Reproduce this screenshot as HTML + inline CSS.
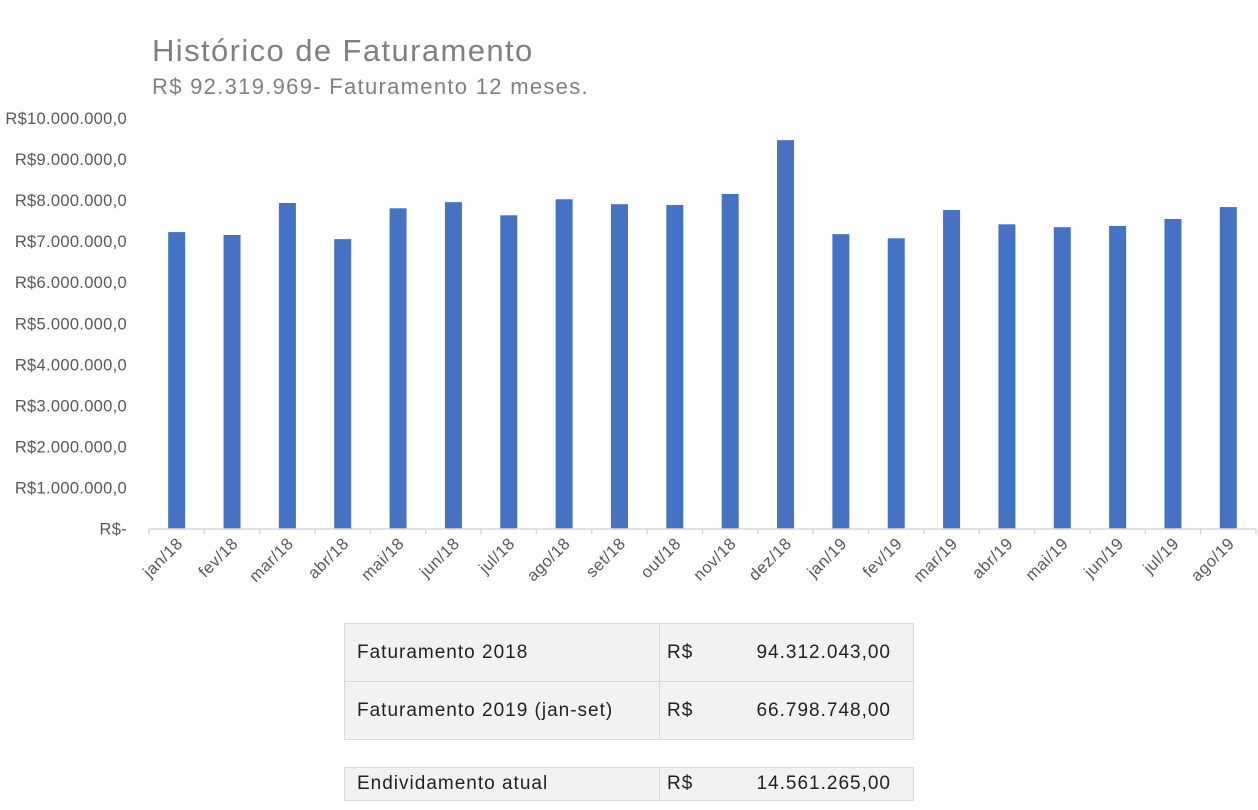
<!DOCTYPE html>
<html><head><meta charset="utf-8"><style>
body{margin:0;width:1258px;height:810px;background:#fff;font-family:"Liberation Sans",sans-serif;overflow:hidden;position:relative}
.t{position:absolute;white-space:nowrap}
table{position:absolute;border-collapse:collapse;font-size:19px;color:#222;letter-spacing:1px}
td{background:#f2f2f2;border:1px solid #d9d9d9;padding:0 12px;height:57px}
td.v{padding-left:7px}
</style></head><body>
<div class="t" style="left:152px;top:33px;font-size:31px;color:#808080;letter-spacing:1.4px">Histórico de Faturamento</div>
<div class="t" style="left:152px;top:74px;font-size:22px;color:#808080;letter-spacing:1.3px">R$ 92.319.969- Faturamento 12 meses.</div>
<svg id="chart" width="1258" height="620" style="position:absolute;left:0;top:0"></svg>
<table style="left:344px;top:623px;width:570px">
<tr><td style="width:290px">Faturamento 2018</td><td class="v"><span style="float:left">R$</span><span style="float:right;padding-right:10px">94.312.043,00</span></td></tr>
<tr><td>Faturamento 2019 (jan-set)</td><td class="v"><span style="float:left">R$</span><span style="float:right;padding-right:10px">66.798.748,00</span></td></tr>
</table>
<table style="left:344px;top:767px;width:570px">
<tr><td style="width:290px;height:32px">Endividamento atual</td><td class="v" style="height:32px"><span style="float:left">R$</span><span style="float:right;padding-right:10px">14.561.265,00</span></td></tr>
</table>
<script>
const categories=["jan/18","fev/18","mar/18","abr/18","mai/18","jun/18","jul/18","ago/18","set/18","out/18","nov/18","dez/18","jan/19","fev/19","mar/19","abr/19","mai/19","jun/19","jul/19","ago/19"];
const values=[7.22,7.15,7.93,7.05,7.80,7.95,7.63,8.02,7.90,7.88,8.15,9.46,7.17,7.07,7.76,7.41,7.34,7.37,7.54,7.83];
const yTicks=[0,1,2,3,4,5,6,7,8,9,10];
const yTickLabels=["R$-","R$1.000.000,0","R$2.000.000,0","R$3.000.000,0","R$4.000.000,0","R$5.000.000,0","R$6.000.000,0","R$7.000.000,0","R$8.000.000,0","R$9.000.000,0","R$10.000.000,0"];
const svg=document.getElementById('chart');const NS="http://www.w3.org/2000/svg";
const x0=149,x1=1256,y0=528.5,yTop=118;
const bw=(x1-x0)/categories.length;
const y=v=>y0-(v/10)*(y0-yTop);
const xc=i=>x0+bw*(i+0.5);
function mk(t,a){const e=document.createElementNS(NS,t);for(const k in a)e.setAttribute(k,a[k]);svg.appendChild(e);return e;}
yTicks.forEach((v,i)=>{const t=mk('text',{x:127,y:y(v)+6,'text-anchor':'end','font-size':16.5,fill:'#595959','font-family':'Liberation Sans','letter-spacing':0.3});t.textContent=yTickLabels[i];

});
values.forEach((v,i)=>{const r=mk('rect',{x:xc(i)-8.5,y:y(v),width:17,height:y0-y(v),fill:'#4472c4'});

});
const ax=mk('line',{x1:x0,x2:x1,y1:y0+0.5,y2:y0+0.5,stroke:'#d9d9d9','stroke-width':1.5});


for(let i=0;i<=categories.length;i++){mk('line',{x1:x0+bw*i,x2:x0+bw*i,y1:y0,y2:y0+6,stroke:'#d9d9d9','stroke-width':1.5});}
categories.forEach((c,i)=>{const cx=xc(i)+7,cy=y0+16;const t=mk('text',{x:cx,y:cy,'text-anchor':'end','font-size':16.5,fill:'#595959','font-family':'Liberation Sans','letter-spacing':0.5,transform:`rotate(-45 ${cx} ${cy})`});t.textContent=c;

});
</script>
</body></html>
